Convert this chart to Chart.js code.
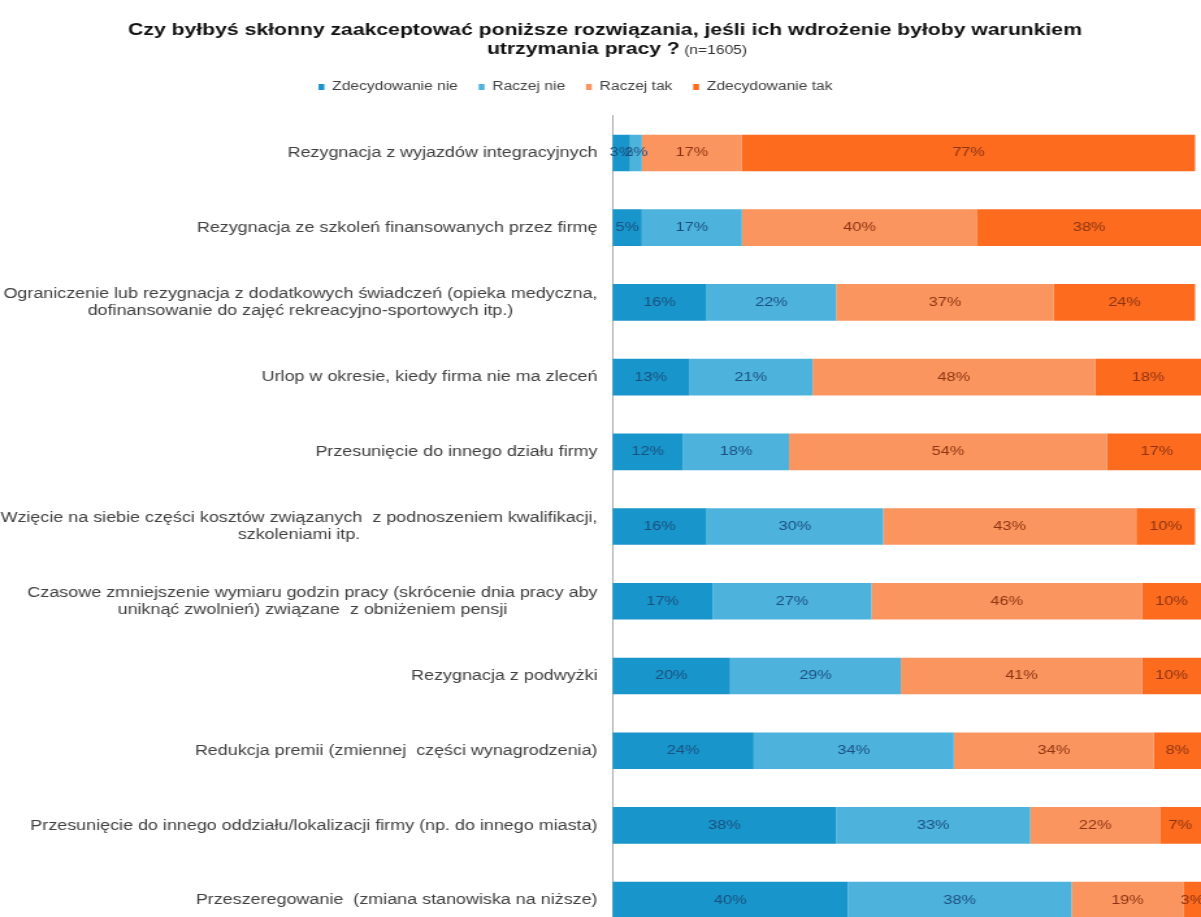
<!DOCTYPE html>
<html>
<head>
<meta charset="utf-8">
<script src="https://cdn.jsdelivr.net/npm/chart.js@4/dist/chart.umd.min.js"></script>
<style>
html, body { margin:0; padding:0; background:#ffffff; overflow:hidden; width:1201px; height:917px; }
#wrap { position:absolute; left:0; top:0; width:924px; height:940px; transform:scaleX(1.29978); transform-origin:0 0; }
canvas { display:block; }
</style>
</head>
<body>
<div id="wrap"><canvas id="c" width="924" height="940"></canvas></div>
<script>
// ---------- data ----------
const categories = [
  'Rezygnacja z wyjazdów integracyjnych',
  'Rezygnacja ze szkoleń finansowanych przez firmę',
  ['Ograniczenie lub rezygnacja z dodatkowych świadczeń (opieka medyczna,', 'dofinansowanie do zajęć rekreacyjno-sportowych itp.)'],
  'Urlop w okresie, kiedy firma nie ma zleceń',
  'Przesunięcie do innego działu firmy',
  ['Wzięcie na siebie części kosztów związanych  z podnoszeniem kwalifikacji,', 'szkoleniami itp.'],
  ['Czasowe zmniejszenie wymiaru godzin pracy (skrócenie dnia pracy aby', 'uniknąć zwolnień) związane  z obniżeniem pensji'],
  'Rezygnacja z podwyżki',
  'Redukcja premii (zmiennej  części wynagrodzenia)',
  'Przesunięcie do innego oddziału/lokalizacji firmy (np. do innego miasta)',
  'Przeszeregowanie  (zmiana stanowiska na niższe)'
];
const seriesNames = ['Zdecydowanie nie', 'Raczej nie', 'Raczej tak', 'Zdecydowanie tak'];
const zdecydowanieNie = [3, 5, 16, 13, 12, 16, 17, 20, 24, 38, 40];
const raczejNie       = [2, 17, 22, 21, 18, 30, 27, 29, 34, 33, 38];
const raczejTak       = [17, 40, 37, 48, 54, 43, 46, 41, 34, 22, 19];
const zdecydowanieTak = [77, 38, 24, 18, 17, 10, 10, 10, 8, 7, 3];
const titleLine1 = 'Czy byłbyś skłonny zaakceptować poniższe rozwiązania, jeśli ich wdrożenie byłoby warunkiem';
const titleLine2Bold = 'utrzymania pracy ?';
const titleLine2Note = ' (n=1605)';

// ---------- styles ----------
const FONT = '"Liberation Sans", Arial, sans-serif';
const seriesColors = ['#1896CB', '#4DB3DD', '#FB955F', '#FC6B1E'];
const valueLabelColors = ['#1B4F7E', '#1B4F7E', '#8E3412', '#8E3412'];
const seriesValues = [zdecydowanieNie, raczejNie, raczejTak, zdecydowanieTak];

Chart.defaults.font.family = FONT;

const titlePlugin = {
  id: 'titlePlugin',
  afterDraw(chart) {
    const ctx = chart.ctx;
    ctx.save();
    ctx.fillStyle = '#111111';
    ctx.textBaseline = 'middle';
    ctx.textAlign = 'center';
    ctx.font = 'bold 16.3px ' + FONT;
    ctx.fillText(titleLine1, 465.5, 31);
    ctx.textAlign = 'left';
    const wb = ctx.measureText(titleLine2Bold).width;
    ctx.font = '12px ' + FONT;
    const wn = ctx.measureText(titleLine2Note).width;
    const start = 474.7 - (wb + wn) / 2;
    ctx.font = 'bold 16.3px ' + FONT;
    ctx.fillText(titleLine2Bold, start, 50);
    ctx.font = '12px ' + FONT;
    ctx.fillStyle = '#333333';
    ctx.fillText(titleLine2Note, start + wb, 51);
    ctx.restore();
  }
};

const categoryLabelPlugin = {
  id: 'categoryLabels',
  afterDraw(chart) {
    const ctx = chart.ctx;
    const yScale = chart.scales.y;
    const rightEdge = yScale.right - 11.5;
    const lineH = 17;
    ctx.save();
    ctx.font = '13.8px ' + FONT;
    ctx.fillStyle = '#404040';
    ctx.textBaseline = 'middle';
    ctx.textAlign = 'center';
    categories.forEach((lab, i) => {
      const lines = Array.isArray(lab) ? lab : [lab];
      const w = Math.max(...lines.map(l => ctx.measureText(l).width));
      const cx = rightEdge - w / 2;
      const yc = yScale.getPixelForValue(i) + 0.5;
      const y0 = yc - (lines.length - 1) * lineH / 2;
      lines.forEach((l, k) => ctx.fillText(l, cx, y0 + k * lineH));
    });
    ctx.restore();
  }
};

const valueLabelPlugin = {
  id: 'valueLabels',
  afterDatasetsDraw(chart) {
    const ctx = chart.ctx;
    ctx.save();
    ctx.font = '12.5px ' + FONT;
    ctx.textAlign = 'center';
    ctx.textBaseline = 'middle';
    chart.data.datasets.forEach((ds, i) => {
      const meta = chart.getDatasetMeta(i);
      ctx.fillStyle = valueLabelColors[i];
      meta.data.forEach((bar, j) => {
        const cx = (bar.x + bar.base) / 2;
        ctx.fillText(ds.data[j] + '%', cx, bar.y);
      });
    });
    ctx.restore();
  }
};

const legendShift = {
  id: 'legendShift',
  afterLayout(chart) {
    const lg = chart.legend;
    if (lg) { lg.left -= 19.2; lg.right -= 19.2; }
  }
};

new Chart(document.getElementById('c'), {
  type: 'bar',
  data: {
    labels: categories,
    datasets: seriesNames.map((name, i) => ({
      label: name,
      data: seriesValues[i],
      backgroundColor: seriesColors[i],
      borderWidth: 0,
      barPercentage: 0.49,
      categoryPercentage: 1.0
    }))
  },
  options: {
    indexAxis: 'y',
    responsive: false,
    animation: false,
    devicePixelRatio: 1,
    layout: { padding: { top: 65, bottom: 2.5, left: 0, right: 0 } },
    plugins: {
      title: { display: false },
      tooltip: { enabled: false },
      legend: {
        display: true,
        position: 'top',
        align: 'center',
        labels: {
          color: '#404040',
          font: { size: 12, family: FONT },
          boxWidth: 4.5,
          boxHeight: 6,
          padding: 16
        }
      }
    },
    scales: {
      x: {
        stacked: true,
        min: 0,
        max: 100,
        position: 'top',
        grid: { display: false },
        border: { display: false },
        ticks: { display: false },
        afterFit(s) { s.height = 12.6; }
      },
      y: {
        stacked: true,
        grid: { display: false, drawTicks: false },
        border: { display: true, color: '#a6a6a6', width: 1 },
        ticks: { display: false },
        afterFit(s) { s.width = 471.2; }
      }
    }
  },
  plugins: [titlePlugin, categoryLabelPlugin, valueLabelPlugin, legendShift]
});
</script>
</body>
</html>
